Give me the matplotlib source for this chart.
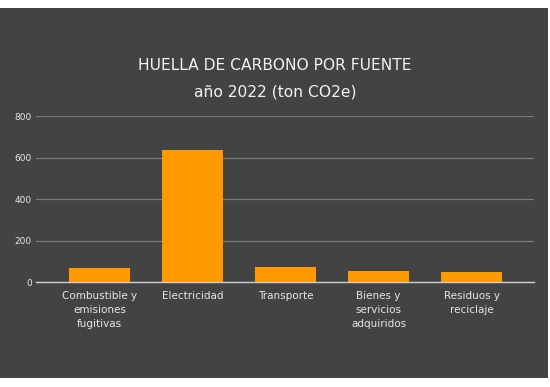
import matplotlib
matplotlib.use("Agg")
import matplotlib.pyplot as plt
from matplotlib.patches import Rectangle

categories = ["Combustible y\nemisiones\nfugitivas", "Electricidad", "Transporte",
              "Bienes y\nservicios\nadquiridos", "Residuos y\nreciclaje"]
values = [69, 636, 74, 53, 47]
yticks = [0, 200, 400, 600, 800]

W, H = 550, 387
fig = plt.figure(figsize=(W / 100, H / 100), dpi=100, facecolor="white")
bg = "#434343"
fig.patches.append(Rectangle((0, (H - 378) / H), 548 / W, 370 / H,
                             transform=fig.transFigure, facecolor=bg,
                             edgecolor="none", zorder=-10))

ax = fig.add_axes([36 / W, (H - 282) / H, (534 - 36) / W, (282 - 116.3) / H])
ax.set_facecolor(bg)
ax.patch.set_alpha(0)

x = list(range(len(categories)))
ax.bar(x, values, width=0.66, color="#ff9900", zorder=3)
ax.set_xlim(-0.683, 4.672)
ax.set_ylim(0, 800)
ax.set_yticks(yticks)
ax.set_yticklabels([str(v) for v in yticks], fontsize=6.5, color="#e6e6e6")
ax.set_xticks(x)
ax.set_xticklabels(categories, fontsize=7.5, color="#e6e6e6", linespacing=1.5)
ax.tick_params(axis="both", length=0)
ax.tick_params(axis="y", pad=3)
ax.tick_params(axis="x", pad=6.5)
for s in ["top", "right", "left"]:
    ax.spines[s].set_visible(False)
ax.spines["bottom"].set_color("#cfcfcf")
ax.spines["bottom"].set_linewidth(1)
ax.spines["bottom"].set_zorder(4)
ax.yaxis.grid(True, color="#7a7a7a", linewidth=0.9, zorder=1)
ax.set_axisbelow(True)

fig.text(0.5, 1 - 65 / H, "HUELLA DE CARBONO POR FUENTE", ha="center", va="center",
         fontsize=11.2, color="#f2f2f2")
fig.text(0.5, 1 - 92 / H, "año 2022 (ton CO2e)", ha="center", va="center",
         fontsize=11.2, color="#f2f2f2")

fig.savefig("out.png", dpi=100, facecolor="white")
